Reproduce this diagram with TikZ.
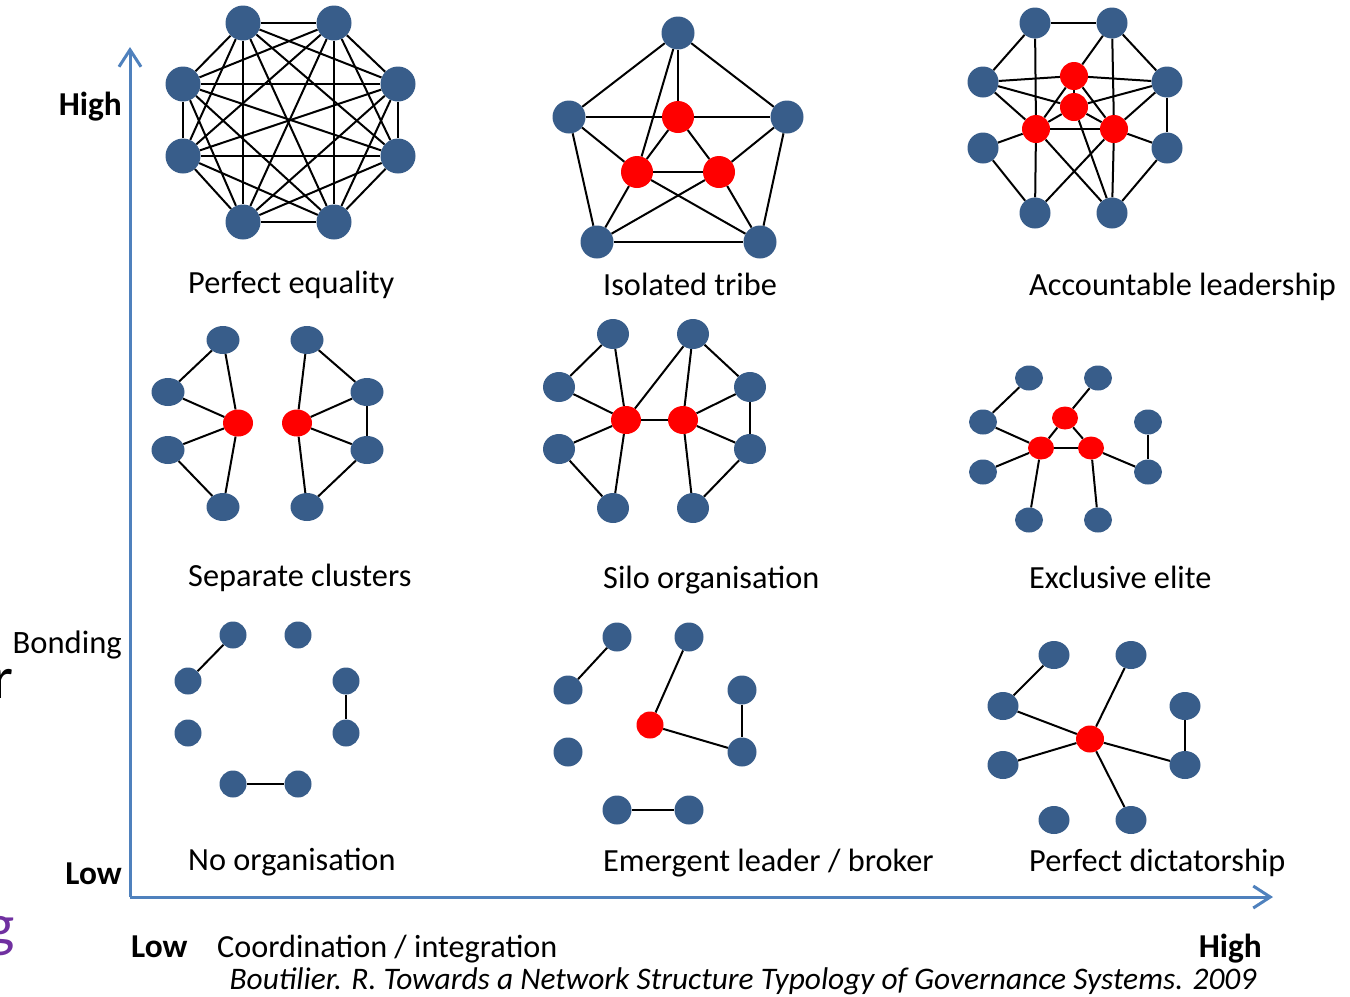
\documentclass[tikz,border=0pt]{standalone}
\usepackage{fontspec}
\setmainfont{Carlito}
\usetikzlibrary{arrows.meta,shapes.geometric,backgrounds}
\definecolor{nblue}{RGB}{56,93,138}
\definecolor{nred}{RGB}{255,0,0}
\definecolor{axblue}{RGB}{79,129,189}
\definecolor{gpurple}{RGB}{112,48,160}
\tikzset{
  bn/.style 2 args={ellipse, fill=nblue, inner sep=0pt, minimum width=#1, minimum height=#2},
  rn/.style 2 args={ellipse, fill=nred, inner sep=0pt, minimum width=#1, minimum height=#2},
  ed/.style={line width=2bp, black},
  lbl/.style={anchor=base west, inner sep=0pt, font=\fontsize{32.3bp}{38bp}\selectfont},
  axlbl/.style={inner sep=0pt, font=\fontsize{32.6bp}{38bp}\selectfont},
  axbold/.style={inner sep=0pt, font=\fontsize{33.4bp}{39bp}\selectfont\bfseries},
  axis/.style={line width=3bp, axblue, -{Straight Barb[length=17bp,width=22bp]}}
}
\begin{document}
\begin{tikzpicture}[x=1bp,y=-1bp]
\useasboundingbox (0,0) rectangle (1350,996);
\clip (0,0) rectangle (1350,996);

% axes
\coordinate (origin) at (130,897);
\coordinate (ytop) at (130,47);
\coordinate (xend) at (1273,897);
\draw[axis] (origin) -- (ytop);
\draw[axis] (origin) -- (xend);

% axis texts
\node[axbold, anchor=base east] (yhigh) at (122,115) {High};
\node[axlbl, anchor=base east] (bond) at (122,653) {Bonding};
\node[axbold, anchor=base east] (ylow) at (122,884) {Low};
\node[axbold, anchor=base west] (xlow) at (131,957) {Low};
\node[inner sep=0pt, anchor=base west, font=\fontsize{32.2bp}{38bp}\selectfont] (coord) at (217,957) {Coordination / integration};
\node[axbold, anchor=base east] (xhigh) at (1262,957) {High};
\node[inner sep=0pt, anchor=base, font=\fontsize{31.4bp}{37bp}\selectfont\itshape] (cite) at (743,989) {Boutilier. R. Towards a Network Structure Typology of Governance Systems. 2009};
\node[inner sep=0pt, anchor=base east, font=\fontsize{60bp}{70bp}\selectfont] (cutr) at (14,698) {r};
\node[inner sep=0pt, anchor=base east, text=gpurple, font=\fontsize{60bp}{70bp}\selectfont] (cutg) at (15,945) {g};

% ---------- Panel 1: Perfect equality
\foreach \n/\x/\y in {1/243/23, 2/334/23, 3/398/84, 4/398/156, 5/334/222, 6/243/222, 7/183/156, 8/183/84}
  \node[bn={35bp}{35bp}] (p\n) at (\x,\y) {};
\begin{pgfonlayer}{background}
\foreach \i in {1,...,7}{
  \pgfmathtruncatemacro\k{\i+1}
  \foreach \j in {\k,...,8}{\draw[ed] (p\i) -- (p\j);}
}
\end{pgfonlayer}
\node[lbl] (l1) at (188,293) {Perfect equality};

% ---------- Panel 2: Isolated tribe
\node[bn={33bp}{33bp}] (t) at (678,33) {};
\node[bn={33bp}{33bp}] (tl) at (569,117) {};
\node[bn={33bp}{33bp}] (tr) at (787,117) {};
\node[bn={33bp}{33bp}] (tbl) at (597,242) {};
\node[bn={33bp}{33bp}] (tbr) at (760,242) {};
\node[rn={32bp}{32bp}] (rt) at (678,117) {};
\node[rn={32bp}{32bp}] (rl) at (637,172) {};
\node[rn={32bp}{32bp}] (rr) at (719,172) {};
\begin{pgfonlayer}{background}
\foreach \a/\b in {t/tl, t/tr, tl/tbl, tr/tbr, tbl/tbr, t/rt, t/rl, tl/rt, rt/tr, tl/rl, rt/rl, rt/rr, rl/rr, rr/tr, rl/tbl, rl/tbr, rr/tbl, rr/tbr}
  \draw[ed] (\a) -- (\b);
\end{pgfonlayer}
\node[lbl] (l2) at (603,295) {Isolated tribe};

% ---------- Panel 3: Accountable leadership
\foreach \n/\x/\y in {TL/1035/23, TR/1112/23, L1/983/82, R1/1167/82, L2/983/148, R2/1167/148, BL/1035/213, BR/1112/213}
  \node[bn={31bp}{31bp}] (a\n) at (\x,\y) {};
\node[rn={28bp}{28bp}] (aT) at (1074,76) {};
\node[rn={28bp}{28bp}] (aM) at (1074,107) {};
\node[rn={28bp}{28bp}] (aL) at (1036,129) {};
\node[rn={28bp}{28bp}] (aR) at (1114,129) {};
\begin{pgfonlayer}{background}
\foreach \a/\b in {TL/TR, TL/L1, TR/R1, R1/R2, L2/BL, R2/BR, TL/L, TR/T, TR/R, L1/T, L1/M, L1/L, R1/T, R1/M, R1/R, T/M, T/L, T/R, M/L, M/R, L/R, L/L2, R/R2, L/BL, L/BR, R/BL, R/BR, M/BR}
  \draw[ed] (a\a) -- (a\b);
\end{pgfonlayer}
\node[lbl] (l3) at (1029,295) {Accountable leadership};

% ---------- Panel 4: Separate clusters
\node[bn={33bp}{28bp}] (sT1) at (223,340) {};
\node[bn={33bp}{28bp}] (sL1) at (168,392) {};
\node[bn={33bp}{28bp}] (sL2) at (168,450) {};
\node[bn={33bp}{28bp}] (sB1) at (223,507) {};
\node[rn={30bp}{27bp}] (sR1) at (238,423) {};
\node[bn={33bp}{28bp}] (sT2) at (307,340) {};
\node[bn={33bp}{28bp}] (sM1) at (367,392) {};
\node[bn={33bp}{28bp}] (sM2) at (367,450) {};
\node[bn={33bp}{28bp}] (sB2) at (307,507) {};
\node[rn={30bp}{27bp}] (sR2) at (297,423) {};
\begin{pgfonlayer}{background}
\foreach \a/\b in {T1/L1, L1/R1, R1/T1, R1/L2, L2/B1, R1/B1, T2/R2, T2/M1, M1/R2, M1/M2, M2/R2, M2/B2, R2/B2}
  \draw[ed] (s\a) -- (s\b);
\end{pgfonlayer}
\node[lbl] (l4) at (188,586) {Separate clusters};

% ---------- Panel 5: Silo organisation
\node[bn={32bp}{30bp}] (oT1) at (613,334) {};
\node[bn={32bp}{30bp}] (oL1) at (559,387) {};
\node[bn={32bp}{30bp}] (oL2) at (559,449) {};
\node[bn={32bp}{30bp}] (oB1) at (613,508) {};
\node[rn={30bp}{28bp}] (oR1) at (626,420) {};
\node[bn={32bp}{30bp}] (oT2) at (693,334) {};
\node[bn={32bp}{30bp}] (oM1) at (750,387) {};
\node[bn={32bp}{30bp}] (oM2) at (750,449) {};
\node[bn={32bp}{30bp}] (oB2) at (693,508) {};
\node[rn={30bp}{28bp}] (oR2) at (683,420) {};
\begin{pgfonlayer}{background}
\foreach \a/\b in {T1/L1, L1/R1, T1/R1, R1/L2, L2/B1, R1/B1, R1/R2, R1/T2, T2/R2, T2/M1, M1/R2, M1/M2, M2/R2, M2/B2, R2/B2}
  \draw[ed] (o\a) -- (o\b);
\end{pgfonlayer}
\node[lbl] (l5) at (603,588) {Silo organisation};

% ---------- Panel 6: Exclusive elite
\foreach \n/\x/\y in {T1/1029/378, T2/1098/378, L1/983/422, R1/1148/422, L2/983/472, R2/1148/472, B1/1029/520, B2/1098/520}
  \node[bn={28bp}{25bp}] (e\n) at (\x,\y) {};
\node[rn={26bp}{23bp}] (eT) at (1065,418) {};
\node[rn={26bp}{23bp}] (eL) at (1041,448) {};
\node[rn={26bp}{23bp}] (eR) at (1091,448) {};
\begin{pgfonlayer}{background}
\foreach \a/\b in {T1/L1, L1/L, L2/L, B1/L, L/T, L/R, T/R, T/T2, R/B2, R/R2, R1/R2}
  \draw[ed] (e\a) -- (e\b);
\end{pgfonlayer}
\node[lbl] (l6) at (1029,588) {Exclusive elite};

% ---------- Panel 7: No organisation
\foreach \n/\x/\y in {A/233/635, B/298/635, C/188/681, D/346/681, E/188/733, F/346/733, G/233/784, H/298/784}
  \node[bn={27bp}{27bp}] (n\n) at (\x,\y) {};
\begin{pgfonlayer}{background}
\foreach \a/\b in {A/C, D/F, G/H}
  \draw[ed] (n\a) -- (n\b);
\end{pgfonlayer}
\node[lbl] (l7) at (188,870) {No organisation};

% ---------- Panel 8: Emergent leader / broker
\foreach \n/\x/\y in {A/617/637, B/689/637, C/568/690, D/742/690, E/568/752, F/742/752, G/617/810, H/689/810}
  \node[bn={29bp}{29bp}] (m\n) at (\x,\y) {};
\node[rn={27bp}{27bp}] (mR) at (650,725) {};
\begin{pgfonlayer}{background}
\foreach \a/\b in {A/C, B/R, R/F, D/F, G/H}
  \draw[ed] (m\a) -- (m\b);
\end{pgfonlayer}
\node[lbl] (l8) at (603,871) {Emergent leader / broker};

% ---------- Panel 9: Perfect dictatorship
\foreach \n/\x/\y in {A/1054/655, B/1131/655, C/1003/706, D/1185/706, E/1003/765, F/1185/765, G/1054/820, H/1131/820}
  \node[bn={31bp}{28bp}] (d\n) at (\x,\y) {};
\node[rn={28bp}{27bp}] (dR) at (1090,739) {};
\begin{pgfonlayer}{background}
\foreach \a/\b in {A/C, C/R, E/R, B/R, R/F, R/H, D/F}
  \draw[ed] (d\a) -- (d\b);
\end{pgfonlayer}
\node[lbl] (l9) at (1029,871) {Perfect dictatorship};
\end{tikzpicture}
\end{document}
